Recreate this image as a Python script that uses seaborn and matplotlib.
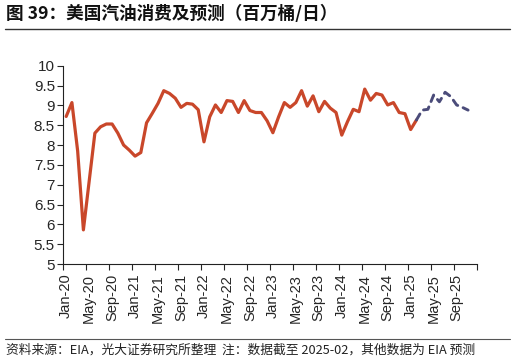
import numpy as np
import pandas as pd
import matplotlib
matplotlib.use("Agg")
import matplotlib.pyplot as plt
import seaborn as sns

# --- data (million barrels/day), monthly Jan-20 .. Dec-25 ---
actual = [8.72, 9.07, 7.85, 5.86, 7.08, 8.30, 8.46, 8.53, 8.53, 8.30, 8.00, 7.87,
          7.72, 7.81, 8.56, 8.80, 9.05, 9.37, 9.30, 9.18, 8.95, 9.05, 9.03, 8.89,
          8.08, 8.71, 9.01, 8.82, 9.12, 9.10, 8.82, 9.12, 8.87, 8.82, 8.82, 8.61,
          8.31, 8.71, 9.07, 8.95, 9.07, 9.37, 8.98, 9.24, 8.84, 9.10, 8.93, 8.82,
          8.25, 8.59, 8.90, 8.84, 9.41, 9.13, 9.30, 9.26, 9.01, 9.07, 8.82, 8.79,
          8.39, 8.63]
forecast = [8.63, 8.88, 8.90, 9.26, 9.09, 9.33, 9.22, 9.01, 8.95, 8.88]
forecast_start = 61  # Feb-25
tick_labels = ["Jan-20", "May-20", "Sep-20", "Jan-21", "May-21", "Sep-21",
               "Jan-22", "May-22", "Sep-22", "Jan-23", "May-23", "Sep-23",
               "Jan-24", "May-24", "Sep-24", "Jan-25", "May-25", "Sep-25"]
n_months = 72

df_act = pd.DataFrame({"m": np.arange(len(actual)), "v": actual})
df_fc = pd.DataFrame({"m": np.arange(forecast_start, forecast_start + len(forecast)), "v": forecast})

sns.set_style("ticks")
plt.rcParams["font.family"] = ["Liberation Sans", "Noto Sans CJK SC", "DejaVu Sans"]

fig = plt.figure(figsize=(5.16, 3.61), dpi=100)
ax = fig.add_axes([63.3 / 516, 1 - 264 / 361, (476.7 - 63.3) / 516, (264 - 65.7) / 361])

sns.lineplot(data=df_act, x="m", y="v", ax=ax, color="#C9472A", linewidth=2.3,
             solid_capstyle="round", solid_joinstyle="round")
sns.lineplot(data=df_fc, x="m", y="v", ax=ax, color="#4B4C7A", linewidth=2.1,
             dashes=False)
ax.lines[-1].set_linestyle((0, (2.4, 2.0)))
ax.lines[-1].set_dash_capstyle("round")

ax.set_xlim(-0.5, n_months - 0.5)
ax.set_ylim(5, 10)
ax.set_yticks(np.arange(5, 10.01, 0.5))
ax.set_yticklabels(["5", "5.5", "6", "6.5", "7", "7.5", "8", "8.5", "9", "9.5", "10"])
ax.set_xticks(np.arange(-0.5, n_months, 4))
ax.set_xticklabels([])
ax.set_xticks(np.arange(0, n_months, 4), minor=True)
ax.set_xticklabels(tick_labels, minor=True, rotation=90)
ax.tick_params(axis="x", which="minor", length=0, pad=7, labelsize=10.5)
ax.tick_params(axis="x", which="major", length=4, direction="out", width=0.8)
ax.tick_params(axis="y", length=4, width=0.8, labelsize=11, pad=2)
ax.set_xlabel("")
ax.set_ylabel("")
for s in ["top", "right"]:
    ax.spines[s].set_visible(False)
for s in ["left", "bottom"]:
    ax.spines[s].set_color("#222222")
    ax.spines[s].set_linewidth(0.8)

cjk = ["Noto Sans CJK SC", "DejaVu Sans"]
fig.text(6 / 516, 1 - 14 / 361, "图 39：美国汽油消费及预测（百万桶/日）", family=cjk,
         fontsize=12.7, fontweight="bold", va="center", ha="left", color="#111111")
fig.add_artist(plt.Line2D([5 / 516, 510 / 516], [1 - 29 / 361, 1 - 29 / 361],
                          color="#333333", linewidth=1.0))
fig.add_artist(plt.Line2D([5 / 516, 510 / 516], [1 - 339 / 361, 1 - 339 / 361],
                          color="#555555", linewidth=0.8))
fig.text(6 / 516, 1 - 350 / 361, "资料来源：EIA，光大证券研究所整理  注：数据截至 2025-02，其他数据为 EIA 预测",
         family=cjk, fontsize=9.2, va="center", ha="left", color="#222222")

fig.savefig("out.png", dpi=100)
